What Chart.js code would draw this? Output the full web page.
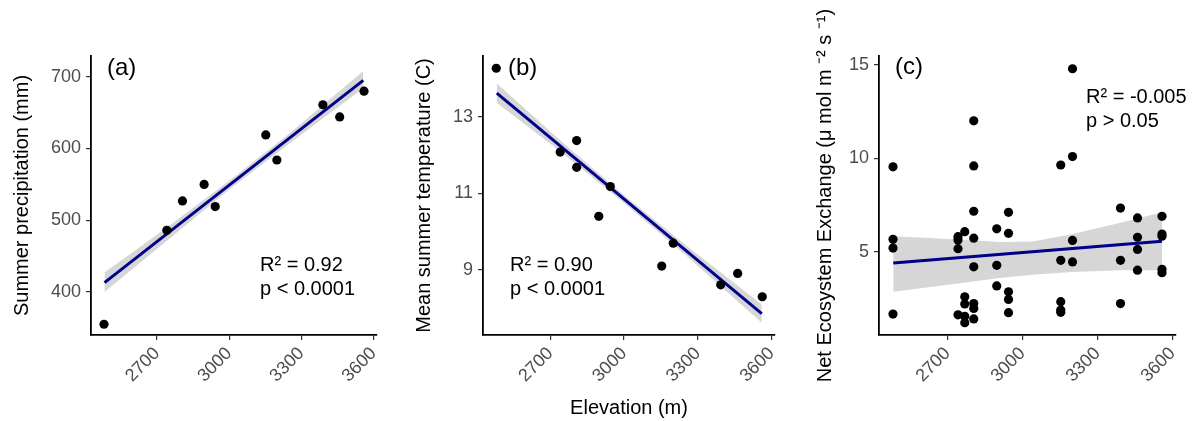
<!DOCTYPE html>
<html>
<head>
<meta charset="utf-8">
<script src="https://cdn.jsdelivr.net/npm/chart.js"></script>
<style>
  body { margin: 0; background: #fff; width: 1193px; height: 421px; overflow: hidden; position: relative; }
  .panel { position: absolute; top: 0; }
</style>
</head>
<body>
<div class="panel" style="left:0px"><canvas id="chartA" width="395" height="421"></canvas></div>
<div class="panel" style="left:395px"><canvas id="chartB" width="395" height="421"></canvas></div>
<div class="panel" style="left:790px"><canvas id="chartC" width="403" height="421"></canvas></div>
<script>
// ===== DATA =====
const xTicks = [2700, 3000, 3300, 3600];

// (a) summer precipitation
const elevA = [2480, 2741, 2806, 2896, 2942, 3152, 3198, 3389, 3459, 3560];
const precipA = [355, 486, 527, 550, 519, 619, 584, 661, 644, 680];
const fitXA = [2482, 3557];
const fitYA = [413, 695];
const bandXA = [2482, 2750, 3000, 3250, 3557];
const bandHiA = [427, 492, 555, 621, 708];
const bandLoA = [400, 474, 543, 607, 684];
const yTicksA = [400, 500, 600, 700];

// (b) mean summer temperature
const elevB = [2480, 2740, 2807, 2807, 2944, 2897, 3153, 3200, 3393, 3462, 3562];
const tempB = [14.27, 12.08, 12.38, 11.68, 11.18, 10.40, 9.10, 9.70, 8.61, 8.91, 8.30];
const fitXB = [2482, 3560];
const fitYB = [13.62, 7.86];
const bandXB = [2482, 2750, 3000, 3250, 3560];
const bandHiB = [13.87, 12.33, 10.95, 9.65, 8.10];
const bandLoB = [13.37, 12.05, 10.75, 9.39, 7.62];
const yTicksB = [9, 11, 13];

// (c) net ecosystem exchange
const elevC = [
  2482, 2482, 2482, 2482,
  2742, 2742, 2742, 2742,
  2769, 2769, 2769, 2769, 2769,
  2805, 2805, 2805, 2805, 2805, 2805, 2805, 2805,
  2897, 2897, 2897,
  2944, 2944, 2944, 2944, 2944,
  3153, 3153, 3153, 3153, 3153,
  3200, 3200, 3200, 3200,
  3392, 3392, 3392,
  3460, 3460, 3460, 3460,
  3558, 3558, 3558, 3558, 3558
];
const neeC = [
  9.55, 5.68, 5.21, 1.69,
  5.82, 5.64, 5.18, 1.65,
  6.09, 2.61, 2.23, 1.57, 1.23,
  12.01, 9.60, 7.18, 5.74, 4.21, 2.25, 1.99, 1.43,
  6.24, 4.29, 3.19,
  7.12, 6.00, 2.88, 2.47, 1.76,
  9.65, 4.56, 2.35, 1.90, 1.78,
  14.79, 10.10, 5.62, 4.47,
  7.35, 4.56, 2.25,
  6.82, 5.79, 5.14, 4.03,
  6.91, 5.96, 5.85, 4.08, 3.90
];
const fitXC = [2483, 3558];
const fitYC = [4.42, 5.58];
const bandXC = [2483, 2742, 2908, 3041, 3200, 3392, 3558];
const bandHiC = [5.85, 5.67, 5.53, 5.56, 5.97, 6.56, 7.12];
const bandLoC = [2.88, 3.32, 3.62, 3.79, 3.94, 4.03, 4.03];
const yTicksC = [5, 10, 15];

// ===== HELPERS =====
const FONT = '"Liberation Sans", Arial, Helvetica, sans-serif';
const pts = (xs, ys) => xs.map((x, i) => ({ x: x, y: ys[i] }));

// text inside the panel: tag like (a) and the R2 / p lines
const panelText = {
  id: 'panelText',
  afterDatasetsDraw(chart, args, opts) {
    const { ctx, chartArea } = chart;
    ctx.save();
    ctx.fillStyle = '#000';
    ctx.textAlign = 'left';
    ctx.textBaseline = 'middle';
    ctx.font = '24px ' + FONT;
    ctx.fillText(opts.tag, chartArea.left + opts.tagAt[0], chartArea.top + opts.tagAt[1]);
    ctx.font = '20px ' + FONT;
    opts.stats.forEach((s, i) => {
      ctx.fillText(s, chartArea.left + opts.statsAt[0], chartArea.top + opts.statsAt[1] + i * 24);
    });
    ctx.restore();
  }
};

function makePanel(id, p) {
  const ctx = document.getElementById(id).getContext('2d');
  return new Chart(ctx, {
    type: 'scatter',
    data: {
      datasets: [
        {
          data: pts(p.bandX, p.bandHi),
          showLine: true, borderWidth: 0, pointRadius: 0,
          backgroundColor: 'rgba(153,153,153,0.4)', fill: '+1', order: 3
        },
        {
          data: pts(p.bandX, p.bandLo),
          showLine: true, borderWidth: 0, pointRadius: 0, fill: false, order: 2
        },
        {
          data: pts(p.fitX, p.fitY),
          showLine: true, borderColor: '#00008B', borderWidth: 3, pointRadius: 0, order: 1
        },
        {
          data: pts(p.x, p.y),
          pointRadius: 4.6, pointBackgroundColor: '#000', pointBorderWidth: 0, order: 0
        }
      ]
    },
    options: {
      responsive: false,
      animation: false,
      events: [],
      layout: { padding: { top: 56, right: p.padRight, left: 0, bottom: 0 } },
      plugins: {
        legend: { display: false },
        tooltip: { enabled: false },
        panelText: { tag: p.tag, tagAt: p.tagAt, stats: p.stats, statsAt: p.statsAt }
      },
      scales: {
        x: {
          type: 'linear', min: 2426, max: 3614,
          afterBuildTicks: s => { s.ticks = xTicks.map(v => ({ value: v })); },
          afterFit: s => { s.height = 86; },
          border: { display: true, color: '#000', width: 1.8 },
          grid: { drawOnChartArea: false, drawTicks: true, tickLength: 5, color: '#333', lineWidth: 1.2 },
          ticks: {
            minRotation: 45, maxRotation: 45, padding: 3, color: '#4d4d4d',
            font: { family: FONT, size: 18 }, callback: v => String(v)
          },
          title: {
            display: !!p.xTitle, text: p.xTitle || '', color: '#000',
            font: { family: FONT, size: 20 }, padding: { top: 0, bottom: 1 }
          }
        },
        y: {
          type: 'linear', min: p.yMin, max: p.yMax,
          afterBuildTicks: s => { s.ticks = p.yTicks.map(v => ({ value: v })); },
          afterFit: s => { s.width = p.yWidth; },
          border: { display: true, color: '#000', width: 1.8 },
          grid: { drawOnChartArea: false, drawTicks: true, tickLength: 5, color: '#333', lineWidth: 1.2 },
          ticks: { padding: 5, color: '#4d4d4d', font: { family: FONT, size: 18 }, callback: v => String(v) },
          title: {
            display: true, text: p.yTitle, color: '#000',
            font: { family: FONT, size: 20 }, padding: { top: p.yTitlePad, bottom: 0 }
          }
        }
      }
    },
    plugins: [panelText]
  });
}

// ===== PANELS =====
makePanel('chartA', {
  x: elevA, y: precipA, fitX: fitXA, fitY: fitYA,
  bandX: bandXA, bandHi: bandHiA, bandLo: bandLoA,
  yMin: 340, yMax: 729, yTicks: yTicksA,
  yTitle: 'Summer precipitation (mm)', yTitlePad: 10, yWidth: 91, padRight: 18,
  tag: '(a)', tagAt: [16, 12], stats: ['R\u00B2 = 0.92', 'p < 0.0001'], statsAt: [169, 209]
});

makePanel('chartB', {
  x: elevB, y: tempB, fitX: fitXB, fitY: fitYB,
  bandX: bandXB, bandHi: bandHiB, bandLo: bandLoB,
  yMin: 7.30, yMax: 14.59, yTicks: yTicksB,
  yTitle: 'Mean summer temperature (C)', yTitlePad: 17, yWidth: 88, padRight: 12,
  xTitle: 'Elevation (m)',
  tag: '(b)', tagAt: [25, 12], stats: ['R\u00B2 = 0.90', 'p < 0.0001'], statsAt: [27, 209]
});

makePanel('chartC', {
  x: elevC, y: neeC, fitX: fitXC, fitY: fitYC,
  bandX: bandXC, bandHi: bandHiC, bandLo: bandLoC,
  yMin: 0.57, yMax: 15.47, yTicks: yTicksC,
  yTitle: 'Net Ecosystem Exchange (\u03BC mol m \u207B\u00B2 s \u207B\u00B9)', yTitlePad: 23, yWidth: 89, padRight: 17,
  tag: '(c)', tagAt: [16, 11], stats: ['R\u00B2 = -0.005', 'p > 0.05'], statsAt: [207, 41]
});
</script>
</body>
</html>
